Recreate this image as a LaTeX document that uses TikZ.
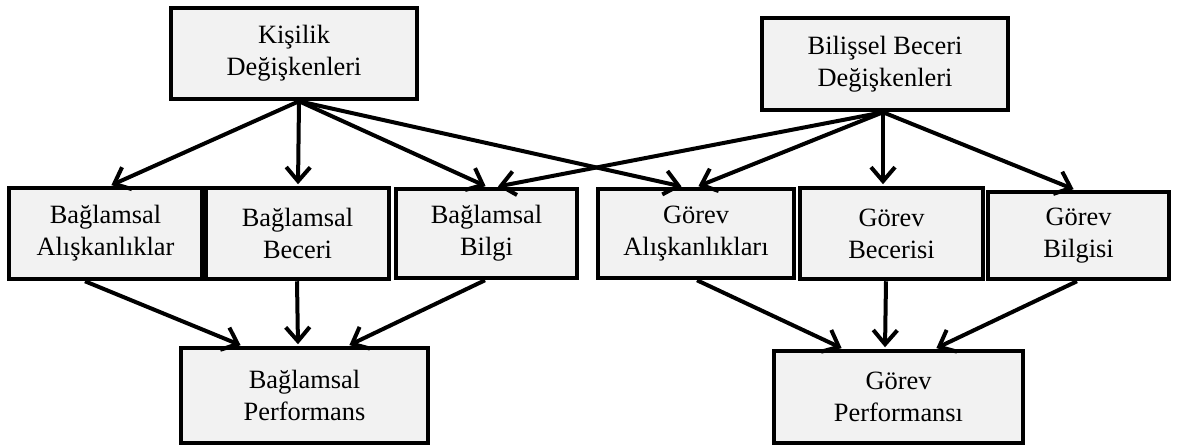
\documentclass[tikz,border=0pt]{standalone}
\usepackage{fontspec}
\setmainfont{Liberation Serif}
\usetikzlibrary{arrows.meta}
\definecolor{boxfill}{HTML}{F2F2F2}
\tikzset{
  box/.style={draw=black, line width=4.5pt, fill=boxfill, inner sep=0pt,
    align=center, font=\fontsize{26.4}{32}\selectfont},
  arr/.style={line width=4pt, shorten >=1.5pt, -{Straight Barb[length=14pt,width=24pt]}}
}
\begin{document}
\begin{tikzpicture}[x=1pt,y=-1pt]
\useasboundingbox (0,0) rectangle (1178,445);
% top level
\node[box, minimum width=246pt, minimum height=91pt] (kv) at (294,53.5) {Kişilik\\Değişkenleri};
\node[box, minimum width=246pt, minimum height=92pt] (bb) at (885,64) {Bilişsel Beceri\\Değişkenleri};
% middle row
\node[box, minimum width=193pt, minimum height=91pt] (ba) at (105.5,233.5) {Bağlamsal\\Alışkanlıklar};
\node[box, minimum width=183pt, minimum height=91pt] (bc) at (297.5,233.5) {Bağlamsal\\Beceri};
\node[box, minimum width=181pt, minimum height=89pt] (bg) at (486.5,233.5) {Bağlamsal\\Bilgi};
\node[box, minimum width=196pt, minimum height=89pt] (ga) at (696,233.5) {Görev\\Alışkanlıkları};
\node[box, minimum width=183pt, minimum height=91pt] (gc) at (891.5,233.5) {Görev\\Becerisi};
\node[box, minimum width=181pt, minimum height=87pt] (gb) at (1078.5,235.5) {Görev\\Bilgisi};
% bottom row
\node[box, minimum width=247pt, minimum height=95pt] (bp) at (304.5,395.5) {Bağlamsal\\Performans};
\node[box, minimum width=249pt, minimum height=92pt] (gp) at (898.5,397) {Görev\\Performansı};
% personality arrows
\draw[arr] ([xshift=5pt]kv.south) -- ([xshift=4.5pt]ba.north);
\draw[arr] ([xshift=5pt]kv.south) -- ([xshift=0.5pt]bc.north);
\draw[arr] ([xshift=5pt]kv.south) -- ([xshift=0.5pt]bg.north);
\draw[arr] ([xshift=5pt]kv.south) -- ([xshift=-13pt]ga.north);
% cognitive ability arrows
\draw[arr] ([xshift=-2pt]bb.south) -- ([xshift=10pt]bg.north);
\draw[arr] ([xshift=-2pt]bb.south) -- ([xshift=1pt]ga.north);
\draw[arr] ([xshift=-2pt]bb.south) -- ([xshift=-8.5pt]gc.north);
\draw[arr] ([xshift=-2pt]bb.south) -- ([xshift=-3.5pt]gb.north);
% contextual performance
\draw[arr] ([xshift=-20.5pt]ba.south) -- ([xshift=-62.5pt]bp.north);
\draw[arr] ([xshift=-0.5pt]bc.south) -- ([xshift=-6.5pt]bp.north);
\draw[arr] ([xshift=-1.5pt]bg.south) -- ([xshift=43.5pt]bp.north);
% task performance
\draw[arr] ([xshift=1pt]ga.south) -- ([xshift=-55.5pt]gp.north);
\draw[arr] ([xshift=-5.5pt]gc.south) -- ([xshift=-13.5pt]gp.north);
\draw[arr] ([xshift=-1.5pt]gb.south) -- ([xshift=36.5pt]gp.north);
\end{tikzpicture}
\end{document}
